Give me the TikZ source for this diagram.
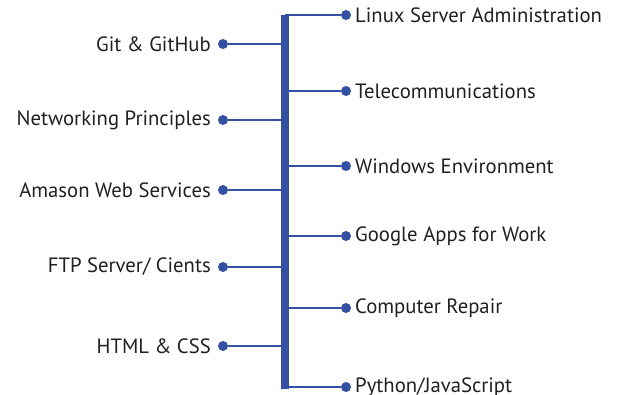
\documentclass[tikz,border=0pt]{standalone}
\usepackage{fontspec}
\setmainfont{PT Sans}
\usetikzlibrary{calc}
\definecolor{myblue}{HTML}{3350A3}
\definecolor{mytext}{HTML}{231F20}
\tikzstyle{dot}=[circle,fill=myblue,minimum size=10,inner sep=0,outer sep=0]
\tikzstyle{skill}=[text=mytext,font=\fontsize{20.7}{24}\selectfont,inner sep=0]
\tikzstyle{branch}=[myblue,line width=1.5]

\begin{document}
\begin{tikzpicture}[x=1pt, y=-1pt]
\useasboundingbox (0,0) rectangle (617,395);

\coordinate (bar-top) at (285,15);
\coordinate (bar-bottom) at (285,389);

% left side
\foreach \y/\l [count=\i] in {44/Git \& GitHub, 120/Networking Principles, 190/Amason Web Services, 267/{FTP Server/ Cients}, 346/HTML \& CSS}
  \node [dot] (left-\i) at (223,\y) {};

\foreach \y/\l [count=\i] in {44/Git \& GitHub, 120/Networking Principles, 190/Amason Web Services, 267/{FTP Server/ Cients}, 346/HTML \& CSS}
  \node [skill, anchor=east] at ($(left-\i.west)+(-7,0)$) {\l};

% right side
\foreach \y/\l [count=\i] in {15/Linux Server Administration, 91/Telecommunications, 166/Windows Environment, 236/Google Apps for Work, 308/Computer Repair, 387/{Python/JavaScript}}
  \node [dot] (right-\i) at (346,\y) {};

\foreach \y/\l [count=\i] in {15/Linux Server Administration, 91/Telecommunications, 166/Windows Environment, 236/Google Apps for Work, 308/Computer Repair, 387/{Python/JavaScript}}
  \node [skill, anchor=west] at ($(right-\i.east)+(4,0)$) {\l};

\foreach \i in {1,...,5}
  \draw [branch] (left-\i) -- (left-\i -| bar-top);

\foreach \i in {1,...,6}
  \draw [branch] (right-\i) -- (right-\i -| bar-top);

\draw [myblue, line width=8] (bar-top) -- (bar-bottom);

\end{tikzpicture}
\end{document}
